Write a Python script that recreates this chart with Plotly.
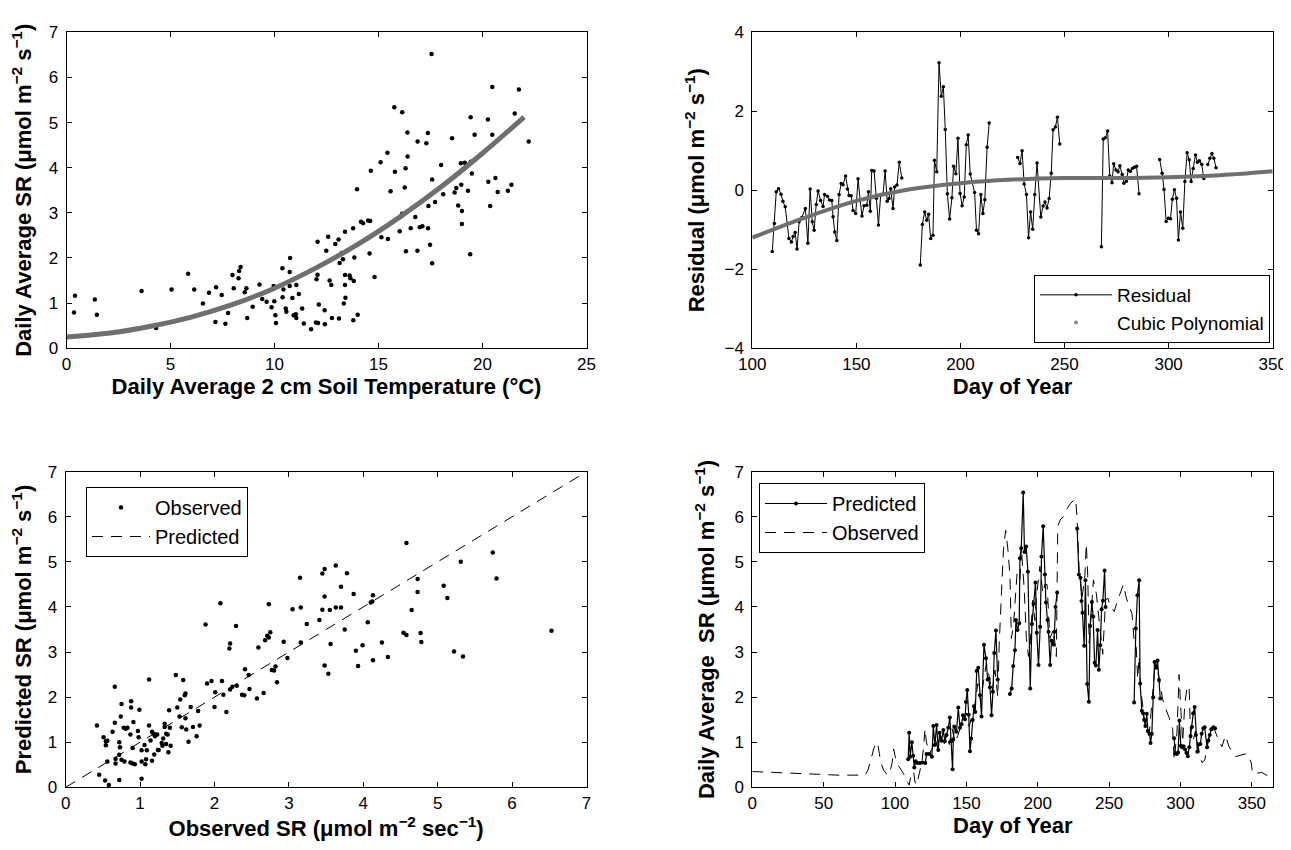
import plotly.graph_objects as go

# ---------------- Top-left: SR vs soil temperature ----------------
soil_temp = [0.41,0.36,1.36,1.46,3.61,4.31,5.05,5.85,6.14,6.56,6.85,7.16,7.19,7.46,7.64,7.77,7.98,8.04,8.27,8.30,
             8.37,8.57,8.65,8.69,8.95,9.28,9.41,9.62,9.86,9.96,9.99,10.04,10.07,10.38,10.43,10.39,10.54,10.57,10.73,10.75,
             10.73,10.86,10.92,11.02,11.05,11.05,11.17,11.33,11.41,11.76,11.99,12.09,12.07,12.02,12.07,12.13,12.41,12.42,12.49,12.58,
             12.65,12.73,12.76,12.92,13.08,13.10,13.13,13.23,13.29,13.39,13.39,13.39,13.41,13.33,13.61,13.65,13.81,13.78,13.84,13.79,
             14.00,13.97,14.16,14.26,14.50,14.60,14.57,14.63,14.81,15.10,15.14,15.43,15.45,15.58,15.76,15.79,16.02,16.14,16.14,16.26,
             16.30,16.32,16.39,16.40,16.55,16.77,16.87,16.88,16.98,17.11,17.30,17.37,17.38,17.40,17.48,17.55,17.58,17.58,17.72,18.01,
             18.11,18.54,18.66,18.74,18.83,18.96,18.98,19.01,19.01,19.15,19.30,19.41,19.43,19.44,19.49,19.62,20.26,20.28,20.37,20.47,
             20.47,20.62,20.73,21.22,21.39,21.55,21.75,22.22]
soil_sr = [1.16,0.79,1.08,0.74,1.27,0.45,1.30,1.65,1.30,0.99,1.23,0.58,1.35,1.18,0.54,0.78,1.62,1.33,1.55,1.71,
           1.80,1.24,1.33,0.67,0.92,1.41,1.09,1.03,0.91,1.38,1.04,0.73,0.56,1.77,1.30,1.13,0.88,0.81,1.69,2.00,
           1.38,1.11,0.73,0.75,0.67,1.40,1.20,0.88,0.55,0.42,0.57,0.56,2.36,1.53,1.63,0.97,0.84,0.53,2.16,2.47,
           1.50,1.40,0.67,2.31,2.41,0.66,1.89,2.11,1.97,2.58,1.62,1.40,1.12,0.99,1.61,1.55,1.49,2.66,2.01,0.62,
           0.74,3.52,2.80,2.77,2.83,2.82,2.10,3.93,1.58,4.12,2.46,4.33,2.42,3.48,5.34,3.91,2.59,5.23,2.98,3.56,
           3.99,2.15,4.78,4.25,2.66,2.91,2.16,4.58,2.68,2.70,4.54,4.77,2.66,3.15,2.29,6.52,3.74,1.88,3.24,4.06,
           3.41,4.65,3.45,3.55,3.16,4.10,3.62,3.04,2.75,4.11,3.49,2.08,5.12,4.13,3.87,4.73,5.07,3.69,3.15,5.79,
           4.73,3.77,3.46,3.49,3.62,5.20,5.73,4.58]
fit_temp = [0, 2, 4, 6, 8, 10, 12, 14, 16, 18, 20, 22]
fit_sr = [0.25, 0.33, 0.48, 0.69, 0.97, 1.33, 1.78, 2.30, 2.90, 3.57, 4.32, 5.12]

# ---------------- Top-right: residuals ----------------
resid_day = [109.6,110.6,111.5,112.6,113.8,114.7,115.8,117.6,118.8,119.6,120.6,121.5,122.5,123.8,125.5,126.7,127.8,128.8,129.7,130.7,
             131.6,132.8,134.0,134.7,136.1,137.1,138.2,138.8,139.6,140.6,141.7,142.7,143.6,144.8,145.7,146.5,147.5,148.4,149.7,150.8,
             151.8,152.7,153.7,155.0,155.8,156.7,157.4,158.5,159.6,160.6,161.7,162.8,163.8,164.8,165.7,166.5,167.6,168.4,169.5,170.6,
             171.8,None,
             180.7,181.7,182.8,183.8,184.7,185.7,186.8,187.5,188.6,189.7,190.8,191.8,192.7,193.7,194.8,195.9,196.7,197.8,198.8,199.8,
             200.8,201.8,202.8,203.7,204.7,206.8,207.7,208.7,209.8,210.8,211.7,212.8,213.8,None,
             227.5,228.6,229.6,230.6,231.7,232.7,233.7,234.7,235.7,236.8,238.6,239.7,240.6,241.6,242.6,243.6,244.5,245.6,246.6,247.7,None,
             267.7,268.6,269.6,270.7,271.7,272.8,273.6,274.7,275.7,276.6,277.7,278.5,279.7,280.6,281.6,282.7,283.6,284.6,285.8,None,
             295.7,296.9,297.8,298.8,299.9,300.9,301.8,302.8,303.8,304.7,305.7,306.8,307.8,308.9,309.9,310.8,311.8,312.9,313.8,314.8,
             315.9,316.9,None,318.8,319.8,320.8,321.7,322.8]
resid_val = [-1.55,-0.84,-0.04,0.04,-0.10,-0.28,-0.42,-1.22,-1.31,-1.17,-1.07,-1.49,-0.80,-0.69,-0.46,-1.34,0.03,-0.80,-1.01,-0.36,
             -0.02,-0.26,-0.41,-0.11,-0.15,-0.25,-0.26,-0.67,-1.06,-1.27,-0.11,0.17,0.14,0.36,0.03,-0.13,-0.14,-0.51,-0.59,0.29,
             -0.24,-0.65,-0.39,-0.38,-0.04,-0.53,0.50,0.49,-0.20,-0.88,-0.11,-0.10,0.49,-0.28,-0.21,0.04,-0.46,0.08,0.13,0.71,
             0.31,None,
             -1.89,-0.87,-0.55,-0.76,-0.61,-1.22,-1.14,0.76,0.47,3.23,2.38,2.62,1.54,-0.09,-0.73,-0.19,0.61,0.42,1.32,-0.08,
             -0.39,-0.17,1.15,1.40,0.41,-0.06,-1.01,-1.10,-0.11,-0.59,-0.24,1.09,1.70,None,
             0.83,0.68,1.00,0.16,-0.11,-1.20,-0.55,-0.99,-0.11,0.69,-0.68,-0.40,-0.30,-0.45,-0.21,0.43,1.53,1.60,1.85,1.17,None,
             -1.43,1.30,1.33,1.50,0.36,0.19,0.67,0.51,0.47,0.62,0.40,0.18,0.23,0.51,0.48,0.56,0.58,0.61,-0.09,None,
             0.78,0.43,0.02,-0.79,-0.71,-0.72,-0.23,0.01,-0.20,-1.26,-0.55,-0.96,0.22,0.95,0.77,0.22,0.55,0.89,0.71,0.75,
             0.66,0.30,None,0.65,0.81,0.93,0.81,0.57]
poly_day = [100, 125, 150, 175, 200, 225, 250, 275, 300, 325, 350]
poly_val = [-1.20, -0.70, -0.27, 0.02, 0.18, 0.27, 0.31, 0.31, 0.33, 0.38, 0.48]

# ---------------- Bottom-left: observed vs predicted ----------------
obs_sr = [0.42,0.51,0.54,0.56,0.54,0.45,0.53,0.58,0.56,0.63,0.66,0.66,0.67,0.67,0.72,0.72,0.73,0.72,0.74,0.75,
          0.75,0.78,0.79,0.81,0.83,0.87,0.88,0.88,0.87,0.90,0.91,0.90,0.93,0.97,0.99,0.98,1.02,1.02,1.02,1.06,
          1.07,1.09,1.08,1.12,1.12,1.14,1.16,1.16,1.18,1.19,1.20,1.23,1.24,1.25,1.29,1.30,1.31,1.33,1.33,1.35,
          1.37,1.38,1.35,1.40,1.41,1.39,1.48,1.50,1.53,1.54,1.56,1.58,1.60,1.61,1.61,1.62,1.65,1.68,1.71,1.76,
          1.78,1.80,1.88,1.90,1.96,2.00,2.01,2.08,2.10,2.12,2.16,2.20,2.21,2.21,2.24,2.29,2.30,2.37,2.40,2.41,
          2.46,2.47,2.57,2.59,2.66,2.68,2.71,2.73,2.73,2.75,2.77,2.80,2.82,2.84,2.93,2.98,3.05,3.15,3.16,3.16,
          3.24,3.41,3.45,3.48,3.48,3.45,3.55,3.56,3.48,3.53,3.63,3.63,3.70,3.70,3.75,3.78,3.87,3.90,3.93,3.99,
          4.06,4.10,4.12,4.13,4.13,4.25,4.33,4.54,4.58,4.58,4.65,4.73,4.73,4.77,4.78,5.08,5.13,5.22,5.31,5.34,
          5.74,5.79,6.53]
pred_sr = [1.37,1.11,1.02,1.03,0.93,0.28,0.15,0.05,0.57,1.23,2.23,1.43,0.53,0.63,0.16,1.00,0.89,0.72,1.57,1.85,
           0.61,1.32,0.57,1.30,1.32,1.17,1.91,1.77,0.55,0.87,1.45,0.53,0.51,1.25,1.72,1.11,0.82,0.19,0.57,0.94,
           0.51,0.82,0.62,2.39,1.37,1.04,0.59,1.23,1.19,0.73,1.13,1.17,0.83,0.83,0.98,0.92,1.08,1.41,1.34,1.19,
           1.17,0.78,0.96,1.32,0.92,1.71,2.49,1.77,1.57,1.95,1.33,2.38,2.04,2.08,1.53,1.28,1.01,1.78,1.34,1.13,
           1.69,1.37,3.61,2.30,2.36,1.78,2.11,4.08,2.36,2.05,1.67,3.08,3.19,2.17,2.23,3.58,2.25,2.05,2.04,2.62,
           2.49,2.18,1.97,3.10,2.09,3.26,3.36,3.32,4.06,3.44,2.60,2.59,2.68,2.33,3.23,2.87,3.95,4.65,3.99,3.21,
           3.62,3.71,4.74,4.84,4.23,3.94,3.93,3.18,2.70,2.52,4.92,3.99,4.45,3.99,3.50,4.75,4.29,3.03,2.69,3.15,
           3.66,4.10,4.12,4.26,2.82,3.21,2.89,3.43,5.42,3.38,3.93,4.62,4.33,3.42,3.22,4.47,4.20,3.01,5.00,2.90,
           5.21,4.63,3.47]
one_to_one = [0, 7]

# ---------------- Bottom-right: time series ----------------
ts_pred_day = [109.2,109.9,110.6,111.8,112.7,113.5,114.4,115.6,117.5,119.3,121.2,122.1,124.0,125.8,126.8,127.9,129.1,130.3,131.2,132.6,
               133.8,134.9,136.1,137.3,138.4,139.4,140.3,140.8,141.5,143.1,144.3,145.5,146.6,147.6,149.0,149.7,150.6,151.6,152.5,153.4,
               154.4,155.3,156.2,157.2,158.3,159.5,160.6,162.3,163.7,164.9,165.6,166.5,167.6,168.6,169.5,170.7,171.9,None,
               180.5,181.7,182.8,184.0,184.7,185.8,187.0,187.5,188.4,189.8,190.7,191.9,193.1,194.7,195.9,197.0,198.4,199.3,200.5,201.7,
               202.6,203.8,205.0,205.7,206.8,207.5,208.7,209.6,211.0,211.7,212.4,213.6,None,
               227.6,228.8,229.9,230.6,231.3,232.5,233.4,234.6,235.8,236.7,237.9,238.8,239.8,240.7,241.9,242.8,243.8,244.7,245.6,246.8,
               247.5,None,
               267.5,268.7,269.8,271.0,271.7,272.9,273.8,274.5,275.4,276.4,277.1,278.3,279.0,279.9,280.9,281.8,283.0,283.9,284.9,285.8,None,
               295.5,296.4,297.4,298.3,299.2,300.2,301.1,302.1,303.2,304.2,305.1,306.1,307.0,308.0,308.9,309.9,310.8,311.8,312.7,313.9,
               314.8,316.0,316.9,318.6,319.5,320.5,321.6,323.0,324.2]
ts_pred_val = [0.62,1.21,0.68,1.00,0.70,0.44,0.58,0.54,0.54,0.55,0.54,0.74,0.74,0.68,1.36,0.94,1.38,0.83,1.21,1.03,
               1.27,1.02,1.16,1.32,1.55,1.02,0.40,1.06,1.35,1.23,1.77,1.32,1.40,1.60,1.51,1.89,2.16,1.61,0.80,1.08,
               1.49,1.80,1.67,2.58,2.65,2.04,1.57,3.16,2.86,2.39,2.41,2.22,1.60,2.12,2.98,3.48,2.39,None,
               2.07,2.19,2.69,3.04,3.71,3.49,3.64,5.08,5.30,6.54,5.22,5.34,4.78,2.19,3.62,4.07,4.54,3.43,2.71,3.56,
               5.12,5.79,4.72,4.10,3.71,3.45,2.71,3.25,3.17,3.45,4.00,4.32,None,
               5.74,4.72,4.65,4.13,3.87,3.14,4.59,2.29,1.90,3.58,4.11,3.79,2.76,2.70,3.49,2.61,3.15,3.95,4.14,4.81,
               4.00,None,
               1.88,3.52,4.26,4.59,2.30,1.70,1.64,1.49,1.36,1.63,1.25,1.19,0.98,1.19,2.00,2.78,2.65,2.81,2.38,1.97,None,
               1.09,0.75,0.74,0.77,1.48,0.92,0.89,0.91,0.84,0.76,0.69,0.89,1.14,1.34,1.64,1.78,1.16,0.79,0.95,0.96,
               1.19,1.31,1.33,0.89,1.04,1.16,1.29,1.33,1.31]
ts_obs_day = [0,15,30,45,60,79,81,83,85,87,88,89,90,92,94,96,98,99,100,102,
              104,106,108,110,111,113,114,115,117,119,120,121,122,124,126,128,130,132,134,136,
              138,140,142,144,146,148,150,152,154,156,158,160,162,164,166,168,170,172,173,174.5,
              176,177.5,179,180.5,181.5,183,185.5,187.5,188.5,190.5,192,193.5,194.5,196.5,198,199,201.5,203.5,205,206.5,
              208.5,211,213,214,216,218,220,223,226.5,227.5,229,231,233,234,235,236,238,239,241,242.5,
              244,245.5,247.5,249,251,253.5,256,258,260,262,264,266,267.5,269,270,271,272,274.5,276,278,
              280,282,284,286,287.5,289.5,292,294.5,295.5,297.5,299,300,301.5,303,304.5,306,307,308.5,310.5,313,
              315,317,319,321,323.5,326,329,331.5,334,338.5,346.5,349.5,350.5,357,360,365]
ts_obs_val = [0.35,0.33,0.31,0.28,0.27,0.27,0.38,0.60,0.85,1.00,0.95,0.75,0.55,0.38,0.30,0.28,0.55,0.85,0.70,0.50,
              0.40,0.30,0.15,0.05,0.25,0.35,0.12,0.05,0.30,0.60,0.90,1.30,1.00,0.75,0.85,1.10,0.85,1.15,0.90,1.20,
              0.95,1.30,1.00,1.15,1.35,1.50,1.65,1.35,1.60,1.85,2.30,1.90,2.35,2.75,2.45,2.10,2.60,2.00,3.20,4.15,
              5.30,5.70,5.30,4.70,3.30,3.60,4.75,4.60,5.30,4.40,3.30,2.90,3.10,4.15,3.70,4.20,4.90,4.30,4.50,4.50,
              3.30,3.50,2.90,5.80,5.95,6.00,6.15,6.30,6.40,6.00,4.80,4.20,4.70,5.40,4.70,3.20,4.20,4.60,4.30,3.80,
              3.30,2.95,4.15,4.20,4.00,3.90,4.15,4.35,4.50,4.20,4.00,3.85,3.25,3.10,2.40,2.90,2.20,1.55,1.30,1.15,
              1.90,2.65,2.60,2.20,1.95,1.75,1.55,1.30,0.60,1.20,2.50,1.85,1.00,1.85,2.20,2.25,1.20,1.00,1.25,0.80,
              0.55,0.60,1.00,1.25,1.30,1.10,0.90,1.15,0.90,0.68,0.75,0.55,0.30,0.33,0.27,0.23]

# ---------------- Figure ----------------
# The page body has an 8px margin; the figure runs to the window's right edge
OFF = 8
W, H = 1291 - OFF, 850 - 2 * OFF
FONT = "Liberation Sans, Arial, Helvetica, sans-serif"
GRAY = "#6f6f6f"

def xd(a, b):
    return [(a - OFF) / W, (b - OFF) / W]

def yd(top, bottom):
    return [1 - (bottom - OFF) / H, 1 - (top - OFF) / H]

def lx(px):
    return (px - OFF) / W

def ly(py):
    return 1 - (py - OFF) / H

fig = go.Figure()

# TL
fig.add_trace(go.Scatter(x=soil_temp, y=soil_sr, mode="markers", marker=dict(color="black", size=4.5),
                         showlegend=False, xaxis="x", yaxis="y"))
fig.add_trace(go.Scatter(x=fit_temp, y=fit_sr, mode="lines", line=dict(color=GRAY, width=5, shape="spline"),
                         showlegend=False, xaxis="x", yaxis="y"))

# TR
fig.add_trace(go.Scatter(x=resid_day, y=resid_val, mode="lines+markers", name="Residual",
                         line=dict(color="black", width=1), marker=dict(color="black", size=3.5),
                         connectgaps=False, xaxis="x2", yaxis="y2", legend="legend"))
fig.add_trace(go.Scatter(x=poly_day, y=poly_val, mode="lines", line=dict(color=GRAY, width=4, shape="spline"),
                         showlegend=False, xaxis="x2", yaxis="y2"))
fig.add_trace(go.Scatter(x=[None], y=[None], mode="markers", name="Cubic Polynomial",
                         marker=dict(color="#8a8a8a", size=4), xaxis="x2", yaxis="y2", legend="legend"))

# BL
fig.add_trace(go.Scatter(x=obs_sr, y=pred_sr, mode="markers", name="Observed",
                         marker=dict(color="black", size=4.5), xaxis="x3", yaxis="y3", legend="legend2"))
fig.add_trace(go.Scatter(x=one_to_one, y=one_to_one, mode="lines", name="Predicted",
                         line=dict(color="black", width=1, dash="11px,8px"), xaxis="x3", yaxis="y3", legend="legend2"))

# BR
fig.add_trace(go.Scatter(x=ts_pred_day, y=ts_pred_val, mode="lines+markers", name="Predicted",
                         line=dict(color="black", width=1.2), marker=dict(color="black", size=4),
                         connectgaps=False, xaxis="x4", yaxis="y4", legend="legend3"))
fig.add_trace(go.Scatter(x=ts_obs_day, y=ts_obs_val, mode="lines", name="Observed",
                         line=dict(color="black", width=1, dash="11px,8px"), xaxis="x4", yaxis="y4", legend="legend3"))

tickfont = dict(family=FONT, size=17, color="black")
titlefont = dict(family=FONT, size=22, color="black", weight="bold")

def ax(domain, rng, dtick, title, anchor, standoff, is_y=False):
    d = dict(domain=domain, range=rng, dtick=dtick, tick0=rng[0],
             showline=True, linecolor="black", linewidth=1, mirror="ticks",
             ticks="inside", ticklen=5, tickwidth=1, tickcolor="black",
             showgrid=False, zeroline=False, tickfont=tickfont, automargin=False,
             ticklabeloverflow="allow",
             title=dict(text=title, font=titlefont, standoff=standoff), anchor=anchor)
    if is_y:
        d["ticklabelstandoff"] = 4
    return d

unit = "(μmol m<sup>−2</sup> s<sup>−1</sup>)"
XS, YS = 0, 13

fig.update_layout(
    width=W, height=H, margin=dict(l=0, r=0, t=0, b=0),
    paper_bgcolor="white", plot_bgcolor="white",
    font=dict(family=FONT, color="black"),
    xaxis=ax(xd(66.5, 586.5), [0, 25], 5, "Daily Average 2 cm Soil Temperature (°C)", "y", XS),
    yaxis=ax(yd(32.3, 348.2), [0, 7], 1, "Daily Average SR " + unit, "x", YS, True),
    xaxis2=ax(xd(752.3, 1272.7), [100, 350], 50, "Day of Year", "y2", XS),
    yaxis2=ax(yd(32.3, 348.2), [-4, 4], 2, "Residual " + unit, "x2", YS, True),
    xaxis3=ax(xd(65.7, 586.5), [0, 7], 1, "Observed SR (μmol m<sup>−2</sup> sec<sup>−1</sup>)", "y3", XS),
    yaxis3=ax(yd(471.7, 787.3), [0, 7], 1, "Predicted SR " + unit, "x3", YS, True),
    xaxis4=ax(xd(752.3, 1273.3), [0, 365], 50, "Day of Year", "y4", 0),
    yaxis4=ax(yd(471.7, 787.3), [0, 7], 1, "Daily Average  SR " + unit, "x4", YS, True),
    legend=dict(x=lx(1270), y=ly(275), xanchor="right", yanchor="top", bgcolor="white",
                bordercolor="black", borderwidth=1, font=dict(family=FONT, size=19), itemwidth=72,
                tracegroupgap=0),
    legend2=dict(x=lx(86), y=ly(487), xanchor="left", yanchor="top", bgcolor="white",
                 bordercolor="black", borderwidth=1, font=dict(family=FONT, size=20), itemwidth=58),
    legend3=dict(x=lx(759), y=ly(483), xanchor="left", yanchor="top", bgcolor="white",
                 bordercolor="black", borderwidth=1, font=dict(family=FONT, size=20), itemwidth=62),
)

fig.write_html("out.html")
